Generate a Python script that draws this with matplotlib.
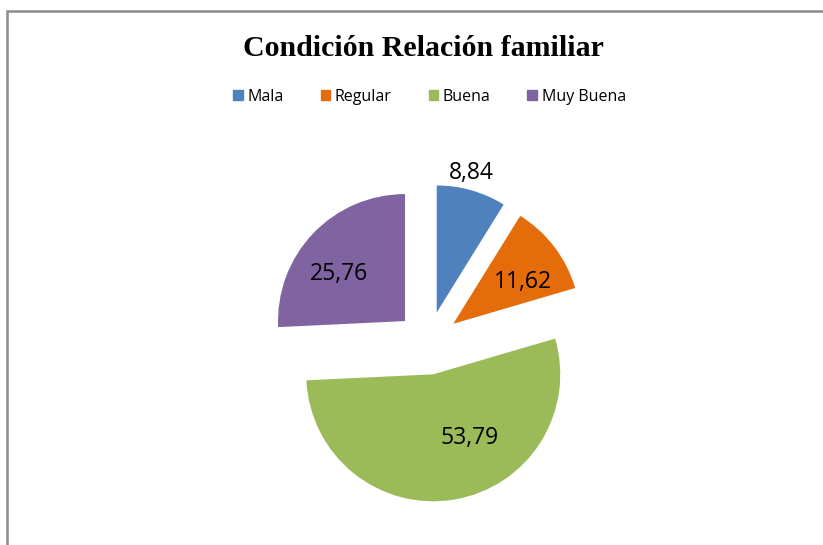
import numpy as np
import matplotlib.pyplot as plt
import matplotlib.patches as mpatches

# data
categories = ['Mala', 'Regular', 'Buena', 'Muy Buena']
values = [8.84, 11.62, 53.79, 25.76]
colors = ['#4F81BD', '#E46C0A', '#9BBB59', '#8064A2']
title = 'Condición Relación familiar'

# label placement per slice (radius in pie units, angle shift in degrees)
lab_r = [1.13, 0.64, 0.58, 0.64]
lab_shift = [2, -6, 20, 8]

fig = plt.figure(figsize=(8.23, 5.45), dpi=100)
ax = fig.add_axes([0, 0, 1, 1])

wedges, _ = ax.pie(values, colors=colors, startangle=90, counterclock=False,
                   explode=[0.25] * len(values), radius=1,
                   wedgeprops=dict(linewidth=0))

for w, v, r, s in zip(wedges, values, lab_r, lab_shift):
    th = np.deg2rad((w.theta1 + w.theta2) / 2 + s)
    cx, cy = w.center
    ax.text(cx + r * np.cos(th), cy + r * np.sin(th), f'{v:.2f}'.replace('.', ','),
            ha='center', va='center', fontsize=16.5, family='Open Sans', color='black')

# map data units onto pixels: pie centre at (428, 343), radius 127 px
px = 127.0
ax.set_xlim(-428 / px, (823 - 428) / px)
ax.set_ylim(-(545 - 343) / px, 343 / px)
ax.set_aspect('auto')
ax.axis('off')

fig.text(0.514, 1 - 49 / 545, title, ha='center', va='center',
         fontsize=21.5, fontweight='bold', family='Liberation Serif')

handles = [mpatches.Patch(color=c, label=l) for c, l in zip(colors, categories)]
fig.legend(handles=handles, loc='center', bbox_to_anchor=(0.522, 1 - 97 / 545), ncol=4,
           frameon=False, handlelength=0.6, handleheight=0.6, handletextpad=0.3,
           columnspacing=2.3, prop={'family': 'Open Sans', 'size': 11.5})

# chart border (top and left edges visible)
top = 1 - 11 / 545
fig.add_artist(mpatches.Rectangle((7 / 823, -0.2), 1.2, top + 0.2,
                                  transform=fig.transFigure, fill=False,
                                  edgecolor='#8C8C8C', linewidth=1.8))

fig.savefig('out.png', dpi=100, facecolor='white')
